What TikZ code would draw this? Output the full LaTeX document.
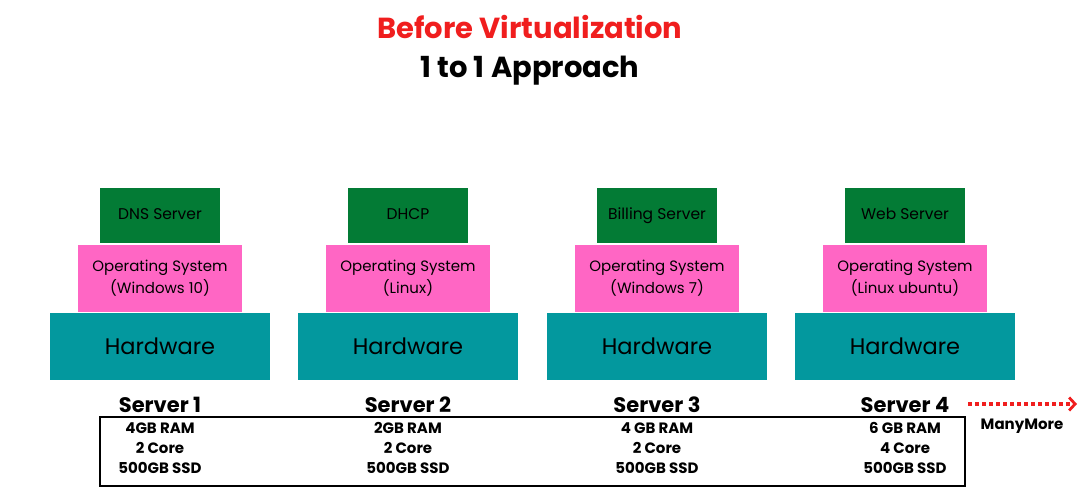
\documentclass[tikz,border=0pt]{standalone}
\usepackage{fontspec}
\setmainfont{Poppins}
\usetikzlibrary{arrows.meta,positioning}
\definecolor{appgreen}{RGB}{3,123,53}
\definecolor{ospink}{RGB}{255,102,196}
\definecolor{hwteal}{RGB}{3,152,158}
\definecolor{titlered}{RGB}{240,30,30}
\tikzset{
    x=1pt,y=1pt,node distance =1pt and 1pt,
    hw/.style ={fill=hwteal, minimum width=220pt, minimum height=67pt, inner sep=0pt, font=\fontsize{22.5}{26}\selectfont},
    os/.style ={fill=ospink, minimum width=164pt, minimum height=67pt, inner sep=0pt, align=center, font=\fontsize{15}{22}\selectfont},
    app/.style ={fill=appgreen, minimum width=120pt, minimum height=55pt, inner sep=0pt, text height=11pt, text depth=3pt, font=\fontsize{15.5}{18}\selectfont},
    srv/.style = {font=\bfseries\fontsize{21}{24}\selectfont},
    spec/.style = {align=center, font=\bfseries\fontsize{15}{20}\selectfont},
    more/.style = {draw=titlered, line width=3.5pt, dash pattern=on 3.5pt off 3.5pt, -{Straight Barb[length=6pt,width=13pt,line width=2.8pt]}}
}
\begin{document}
\begin{tikzpicture}
    \useasboundingbox (0,0) rectangle (1080,500);
    \node[text=titlered, font=\bfseries\fontsize{29}{32}\selectfont] (title) at (530,473) {Before Virtualization};
    \node[font=\bfseries\fontsize{29}{32}\selectfont] (approach) at (530,429) {1 to 1 Approach};

    \foreach \i/\x/\app/\os/\ram/\core in {1/160/DNS Server/Windows 10/4GB RAM/2 Core,
        2/408/DHCP/Linux/2GB RAM/2 Core,
        3/657/Billing Server/Windows 7/4 GB RAM/2 Core,
        4/905/Web Server/Linux ubuntu/6 GB RAM/4 Core}{
        \node[hw] (hw\i) at (\x,153.5) {Hardware};
        \node[os] (os\i) [above = of hw\i] {Operating System\\(\os)};
        \node[app] (app\i) [above = of os\i] {\app};
        \node[srv] (srv\i) at (\x,95) {Server \i};
        \node[spec] (spec\i) at (\x,52) {\ram\\\core\\500GB SSD};
    }

    \draw[line width=1.2pt] (100,83) rectangle (965,14);

    \coordinate (from) at (968,96);
    \coordinate (to) at (1077,96);
    \draw[more] (from) -- (to);
    \node[font=\bfseries\fontsize{15}{18}\selectfont] (manymore) at (1022,74) {ManyMore};
\end{tikzpicture}
\end{document}
